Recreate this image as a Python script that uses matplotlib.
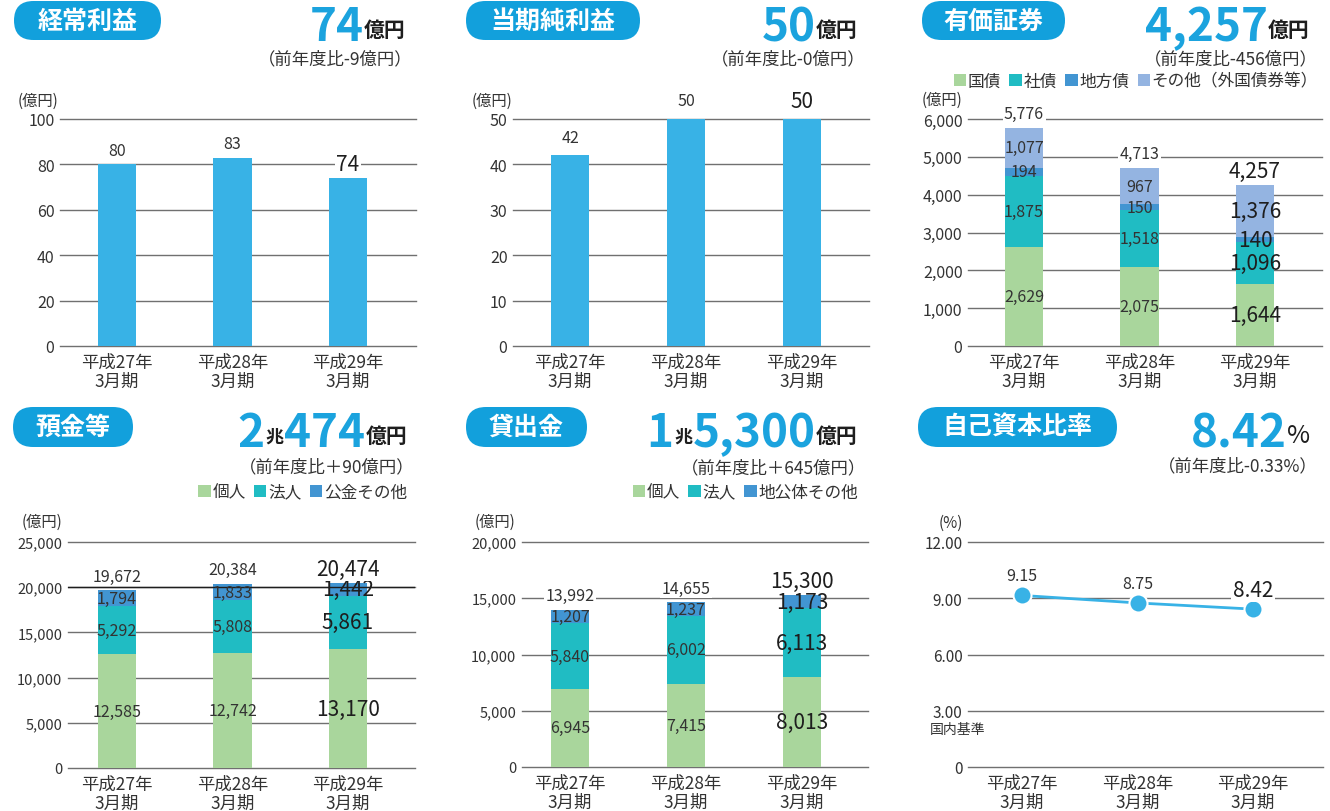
import matplotlib
matplotlib.use("Agg")
import numpy as np
import matplotlib.pyplot as plt
from matplotlib import transforms
from matplotlib.patches import FancyBboxPatch, Patch

plt.rcParams['font.family'] = ['Noto Sans CJK JP', 'DejaVu Sans']

W, H = 1330, 812

years = ["平成27年\n3月期", "平成28年\n3月期", "平成29年\n3月期"]

# 経常利益 / 当期純利益 (億円)
ordinary_profit = [80, 83, 74]
net_income = [42, 50, 50]

# 有価証券 (億円)
sec_names = ["国債", "社債", "地方債", "その他（外国債券等）"]
sec_jgb = [2629, 2075, 1644]
sec_corp = [1875, 1518, 1096]
sec_local = [194, 150, 140]
sec_other = [1077, 967, 1376]
sec_total = [5776, 4713, 4257]

# 預金等 (億円)
dep_names = ["個人", "法人", "公金その他"]
dep_indiv = [12585, 12742, 13170]
dep_corp = [5292, 5808, 5861]
dep_public = [1794, 1833, 1442]
dep_total = [19672, 20384, 20474]

# 貸出金 (億円)
loan_names = ["個人", "法人", "地公体その他"]
loan_indiv = [6945, 7415, 8013]
loan_corp = [5840, 6002, 6113]
loan_public = [1207, 1237, 1173]
loan_total = [13992, 14655, 15300]

# 自己資本比率 (%)
capital_ratio = [9.15, 8.75, 8.42]

BAR = "#38b2e6"
GREEN = "#a9d69c"
TEAL = "#20bcc3"
BLUE = "#4295d2"
LAV = "#94b4e1"
PILL = "#12a0dc"
BIG = "#1ba3de"
TXT = "#333333"
DARK = "#1e1e1e"
GRID = "#707070"
BIGW = 'semibold'

fig = plt.figure(figsize=(W / 100, H / 100), dpi=100)
# pixel coordinates, origin top-left
px = transforms.Affine2D().scale(0.01, -0.01).translate(0, H / 100) + fig.dpi_scale_trans
renderer = fig.canvas.get_renderer()


def make_ax(x0, x1, ytop, ybot, c0, c2, ymax, ticks, fmt, tick_fs):
    ax = fig.add_axes([x0 / W, 1 - ybot / H, (x1 - x0) / W, (ybot - ytop) / H])
    s = (c2 - c0) / 2
    ax.set_xlim((x0 - c0) / s, (x1 - c0) / s)
    ax.set_ylim(0, ymax)
    ax.set_yticks(ticks)
    ax.set_yticklabels([fmt(v) for v in ticks], fontsize=tick_fs, color=TXT)
    ax.set_xticks(range(3))
    ax.set_xticklabels(years, fontsize=12.5, color=TXT, linespacing=1.1)
    ax.tick_params(axis='y', length=0, pad=4)
    ax.tick_params(axis='x', length=0, pad=5)
    for sp in ax.spines.values():
        sp.set_visible(False)
    ax.grid(axis='y', color=GRID, lw=1.0)
    for gl in ax.get_ygridlines():
        gl.set_clip_on(False)
    ax.set_axisbelow(True)
    return ax


def pill(x, y, w, h, text):
    p = FancyBboxPatch((x, y), w, h, boxstyle=f"round,pad=0,rounding_size={h / 2}",
                       transform=px, fc=PILL, ec='none')
    fig.add_artist(p)
    fig.text(x + w / 2, y + h / 2, text, transform=px, ha='center', va='center',
             color='white', fontsize=18, fontweight='bold')


def headline(pieces, xr):
    # pieces: (text, size, color, baseline_y, gap, weight), placed right to left
    x = xr
    for text, size, color, yb, gap, wt in reversed(pieces):
        t = fig.text(x, yb, text, transform=px, ha='right', va='baseline',
                     fontsize=size, color=color, fontweight=wt)
        bb = t.get_window_extent(renderer)
        x = px.inverted().transform((bb.x0, bb.y0))[0] - gap


def subtitle(xr, y, text):
    fig.text(xr, y, text, transform=px, ha='right', va='center', fontsize=12.5, color=TXT)


def value_text(ax, x, y, v, big, fmt="{:,}"):
    ax.text(x, y, fmt.format(v), ha='center', va='center',
            fontsize=15 if big else 11.5, color=DARK if big else TXT, zorder=4)


def top_text(ax, x, y, v, big, fmt="{:,}", off=10):
    ax.annotate(fmt.format(v), (x, y), xytext=(0, off), textcoords='offset points',
                ha='center', va='center', fontsize=15 if big else 11.5,
                color=DARK if big else TXT, zorder=4,
                bbox=dict(fc='white', ec='none', pad=1))


def stacked(ax, parts, colors, totals):
    bottom = np.zeros(3)
    for vals, col in zip(parts, colors):
        vals = np.array(vals)
        ax.bar(range(3), vals, 0.33, bottom=bottom, color=col, zorder=1)
        for i in range(3):
            value_text(ax, i, bottom[i] + vals[i] / 2, int(vals[i]), i == 2)
        bottom = bottom + vals
    for i in range(3):
        top_text(ax, i, bottom[i], totals[i], i == 2)


def legend(names, colors, xr, yc):
    handles = [Patch(fc=c, ec='none') for c in colors]
    fig.legend(handles, names, loc='center right', bbox_to_anchor=(xr / W, 1 - yc / H),
               bbox_transform=fig.transFigure, ncol=len(names), frameon=False,
               fontsize=12, labelcolor=TXT, handlelength=0.75, handleheight=0.75,
               handletextpad=0.1, columnspacing=0.5, borderpad=0, borderaxespad=0)


def unit(xr, y, text):
    fig.text(xr, y, text, transform=px, ha='right', va='center', fontsize=11, color=TXT)


# ---- 経常利益 ----
pill(14, 2, 147, 39, "経常利益")
headline([("74", 33, BIG, 41, 1, BIGW), ("億円", 15, DARK, 37, 0, 'bold')], 405)
subtitle(413, 59, "（前年度比-9億円）")
unit(58, 101, "(億円)")
ax1 = make_ax(60, 416, 120, 347, 117, 348, 100, range(0, 101, 20), str, 11.5)
ax1.bar(range(3), ordinary_profit, 0.33, color=BAR)
for i, v in enumerate(ordinary_profit):
    top_text(ax1, i, v, v, i == 2)

# ---- 当期純利益 ----
pill(466, 2, 174, 39, "当期純利益")
headline([("50", 33, BIG, 41, 1, BIGW), ("億円", 15, DARK, 37, 0, 'bold')], 858)
subtitle(866, 59, "（前年度比-0億円）")
unit(512, 101, "(億円)")
ax2 = make_ax(513, 869, 120, 347, 570, 802, 50, range(0, 51, 10), str, 11.5)
ax2.bar(range(3), net_income, 0.33, color=BAR)
for i, v in enumerate(net_income):
    top_text(ax2, i, v, v, i == 2, off=13)

# ---- 有価証券 ----
pill(922, 2, 143, 39, "有価証券")
headline([("4,257", 33, BIG, 41, 1, BIGW), ("億円", 15, DARK, 37, 0, 'bold')], 1310)
subtitle(1318, 59, "（前年度比-456億円）")
legend(sec_names, [GREEN, TEAL, BLUE, LAV], 1318, 82)
unit(962, 100, "(億円)")
ax3 = make_ax(968, 1322, 120, 347, 1024, 1255, 6000, range(0, 6001, 1000), "{:,}".format, 11.5)
stacked(ax3, [sec_jgb, sec_corp, sec_local, sec_other], [GREEN, TEAL, BLUE, LAV], sec_total)

# ---- 預金等 ----
pill(13, 408, 120, 40, "預金等")
headline([("2", 33, BIG, 447, 0, BIGW), ("兆", 13, DARK, 443, 1, 'bold'),
          ("474", 33, BIG, 447, 1, BIGW), ("億円", 15, DARK, 443, 0, 'bold')], 407)
subtitle(415, 467, "（前年度比＋90億円）")
legend(dep_names, [GREEN, TEAL, BLUE], 407, 493)
unit(62, 522, "(億円)")
ax4 = make_ax(68, 415, 543, 769, 117, 348, 25000, range(0, 25001, 5000), "{:,}".format, 10.5)
stacked(ax4, [dep_indiv, dep_corp, dep_public], [GREEN, TEAL, BLUE], dep_total)
ax4.axhline(20000, color=DARK, lw=1.0, zorder=2.5)

# ---- 貸出金 ----
pill(466, 408, 121, 40, "貸出金")
headline([("1", 33, BIG, 447, 6, BIGW), ("兆", 13, DARK, 443, 1, 'bold'),
          ("5,300", 33, BIG, 447, 1, BIGW), ("億円", 15, DARK, 443, 0, 'bold')], 858)
subtitle(866, 468, "（前年度比＋645億円）")
legend(loan_names, [GREEN, TEAL, BLUE], 858, 493)
unit(515, 522, "(億円)")
ax5 = make_ax(522, 868, 543, 768, 570, 802, 20000, range(0, 20001, 5000), "{:,}".format, 10.5)
stacked(ax5, [loan_indiv, loan_corp, loan_public], [GREEN, TEAL, BLUE], loan_total)

# ---- 自己資本比率 ----
pill(918, 408, 199, 40, "自己資本比率")
headline([("8.42", 33, BIG, 447, 1, BIGW), ("%", 18, DARK, 443, 0, 'normal')], 1310)
subtitle(1318, 466, "（前年度比-0.33%）")
unit(963, 523, "(%)")
ax6 = make_ax(968, 1323, 543, 768, 1022, 1253, 12, [0, 3, 6, 9, 12],
              lambda v: "0" if v == 0 else f"{v:.2f}", 11)
ax6.plot(range(3), capital_ratio, color=BAR, lw=2, marker='o', ms=13, mfc=BAR,
         mec='white', mew=1.5, zorder=3, clip_on=False)
for i, v in enumerate(capital_ratio):
    top_text(ax6, i, v, v, i == 2, fmt="{:.2f}", off=14)
fig.text(930, 730, "国内基準", transform=px, ha='left', va='center', fontsize=10, color=TXT)

fig.savefig("out.png", dpi=100)
